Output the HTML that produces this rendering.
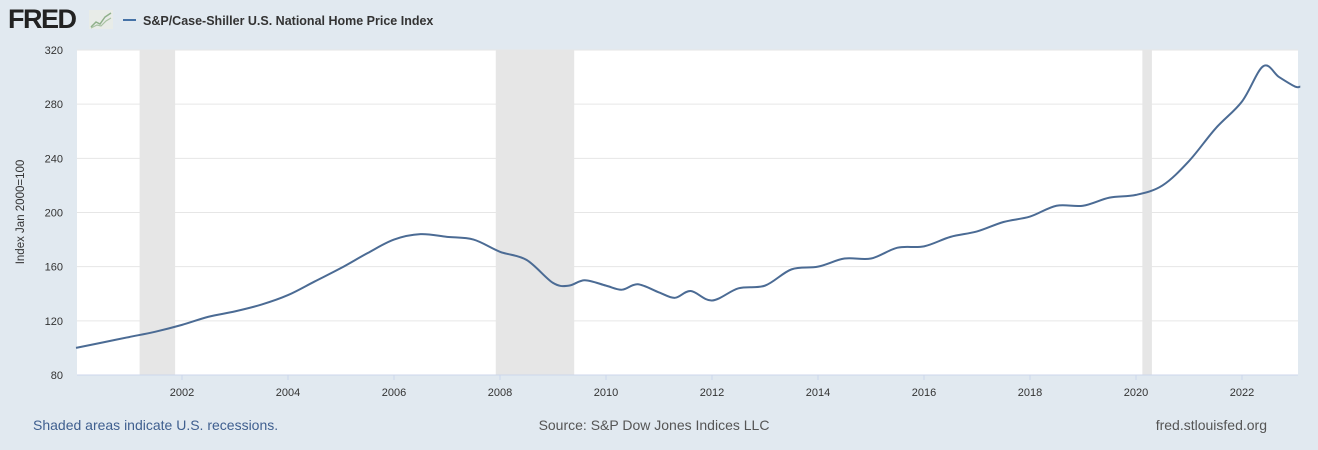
<!DOCTYPE html>
<html><head><meta charset="utf-8"><style>
body{margin:0;background:#e1e9f0;font-family:"Liberation Sans",sans-serif;}
#wrap{position:relative;width:1318px;height:450px;overflow:hidden;background:#e1e9f0;}
svg text{font-family:"Liberation Sans",sans-serif;}
</style></head><body>
<div id="wrap">
<svg id="svg" width="1318" height="450">
  <text x="8" y="28" font-size="27" font-weight="bold" fill="#222" letter-spacing="-1.5">FRED</text>
  <g>
    <rect x="89" y="10" width="24" height="19" fill="#e8ece8"/>
    <polyline points="91,27 96,22 100,24 105,17 111,13" fill="none" stroke="#8fb08a" stroke-width="1.5"/>
    <polyline points="91,28 97,25 101,26 106,21 111,18" fill="none" stroke="#a8c2a2" stroke-width="1.2"/>
  </g>
  <line x1="123" y1="20" x2="136" y2="20" stroke="#4572a7" stroke-width="2"/>
  <text x="143" y="25" font-size="12.5" font-weight="bold" fill="#333">S&amp;P/Case-Shiller U.S. National Home Price Index</text>
  <rect x="77" y="50" width="1221" height="325" fill="#fff"/>
  <g id="rec"></g><g id="grid"></g><g id="xt"></g>
  <path id="line" fill="none" stroke="#4b6b94" stroke-width="2"/>
  <text transform="translate(24,212) rotate(-90)" font-size="11.5" fill="#333" text-anchor="middle">Index Jan 2000=100</text>
  <text x="33" y="430" font-size="14" fill="#3f5f8f">Shaded areas indicate U.S. recessions.</text>
  <text x="654" y="430" font-size="14" fill="#555" text-anchor="middle">Source: S&amp;P Dow Jones Indices LLC</text>
  <text x="1267" y="430" font-size="14" fill="#555" text-anchor="end">fred.stlouisfed.org</text>
</svg></div>
<script>
const dates=[2000.0,2000.5,2001.0,2001.5,2002.0,2002.5,2003.0,2003.5,2004.0,2004.5,2005.0,2005.5,2006.0,2006.5,2007.0,2007.5,2008.0,2008.5,2009.0,2009.3,2009.6,2010.0,2010.3,2010.6,2011.0,2011.3,2011.6,2012.0,2012.5,2013.0,2013.5,2014.0,2014.5,2015.0,2015.5,2016.0,2016.5,2017.0,2017.5,2018.0,2018.5,2019.0,2019.5,2020.0,2020.5,2021.0,2021.5,2022.0,2022.4,2022.7,2023.0,2023.1];
const values=[100,104,108,112,117,123,127,132,139,149,159,170,180,184,182,180,171,165,148,146,150,146,143,147,141,137,142,135,144,146,158,160,166,166,174,175,182,186,193,197,205,205,211,213,220,238,262,282,308,300,293,293];
const yTicks=[80,120,160,200,240,280,320];
const xTicks=[2002,2004,2006,2008,2010,2012,2014,2016,2018,2020,2022];
const recStart=[2001.2,2007.92,2020.12];
const recEnd=[2001.87,2009.4,2020.3];
const NS='http://www.w3.org/2000/svg';
const X=t=>76+(t-2000)*53;
const Y=v=>375-(v-80)*325/240;
function mk(tag,attrs,parent){const e=document.createElementNS(NS,tag);for(const k in attrs)e.setAttribute(k,attrs[k]);parent.appendChild(e);return e;}
const rec=document.getElementById('rec');
for(let i=0;i<recStart.length;i++){
  const r=mk('rect',{x:X(recStart[i]),y:50,width:X(recEnd[i])-X(recStart[i]),height:325,fill:'#e6e6e6'},rec);
  
  
}
const grid=document.getElementById('grid');
yTicks.forEach(v=>{
  const l=mk('line',{x1:77,x2:1298,y1:Y(v),y2:Y(v),stroke:v===80?'#ccd6eb':'#e6e6e6',"stroke-width":1},grid);
  
  
  const t=mk('text',{x:63,y:Y(v)+4,"font-size":11,fill:'#333',"text-anchor":'end'},grid);
  t.textContent=v;
  
  
});
const xt=document.getElementById('xt');
xTicks.forEach(yr=>{
  const l=mk('line',{x1:X(yr),x2:X(yr),y1:375,y2:380,stroke:'#ccd6eb'},xt);
  
  
  const t=mk('text',{x:X(yr),y:396,"font-size":11,fill:'#333',"text-anchor":'middle'},xt);
  t.textContent=yr;
  
  
});
const pts=dates.map((d,i)=>[X(d),Y(values[i])]);
let d='M'+pts[0][0]+','+pts[0][1];
for(let i=0;i<pts.length-1;i++){
  const p0=pts[Math.max(0,i-1)],p1=pts[i],p2=pts[i+1],p3=pts[Math.min(pts.length-1,i+2)];
  const c1=[p1[0]+(p2[0]-p0[0])/6,p1[1]+(p2[1]-p0[1])/6];
  const c2=[p2[0]-(p3[0]-p1[0])/6,p2[1]-(p3[1]-p1[1])/6];
  d+=` C${c1[0]},${c1[1]} ${c2[0]},${c2[1]} ${p2[0]},${p2[1]}`;
}
document.getElementById('line').setAttribute('d',d);
</script>
</body></html>
